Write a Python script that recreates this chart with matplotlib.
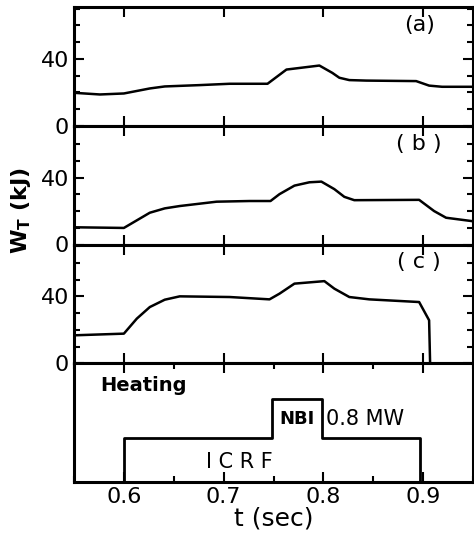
import matplotlib
matplotlib.use("Agg")
import matplotlib.pyplot as plt
from matplotlib.ticker import MultipleLocator

# Stored energy traces (t in sec, W_T in kJ)
t_a = [0.55, 0.576, 0.60, 0.626, 0.641, 0.676, 0.706, 0.744, 0.763, 0.796,
       0.809, 0.816, 0.826, 0.843, 0.893, 0.906, 0.919, 0.95]
w_a = [19.7, 18.7, 19.3, 22.3, 23.5, 24.3, 25.1, 25.1, 33.6, 36.0,
       31.6, 28.7, 27.3, 27.0, 26.7, 24.0, 23.3, 23.3]

t_b = [0.55, 0.60, 0.626, 0.641, 0.656, 0.693, 0.726, 0.747, 0.756, 0.771,
       0.786, 0.798, 0.811, 0.821, 0.831, 0.896, 0.911, 0.923, 0.95]
w_b = [10.3, 9.9, 19.0, 21.6, 23.0, 25.6, 26.0, 26.0, 30.1, 35.2,
       37.2, 37.6, 33.1, 28.5, 26.5, 26.7, 20.0, 16.0, 13.9]

t_c = [0.55, 0.60, 0.613, 0.626, 0.641, 0.656, 0.706, 0.746, 0.756, 0.771,
       0.801, 0.811, 0.826, 0.846, 0.896, 0.906, 0.907]
w_c = [16.7, 17.7, 26.7, 33.6, 38.0, 40.0, 39.6, 38.2, 41.6, 47.6,
       49.1, 44.6, 39.6, 38.2, 36.6, 25.7, 0.0]

panel_labels = ["(a)", "( b )", "( c )"]

# Heating waveforms (start, end, level)
icrf = (0.60, 0.897)
nbi = (0.748, 0.799)
icrf_level = 0.37
nbi_level = 0.70

xticks = [0.6, 0.7, 0.8, 0.9]

plt.rcParams["font.family"] = "DejaVu Sans"
fig = plt.figure(figsize=(4.74, 5.44), dpi=100)

left = 74 / 474
width = 399 / 474
top = 7 / 544
h = 118.75 / 544

axes = []
for i in range(4):
    bottom = 1 - top - (i + 1) * h
    ax = fig.add_axes([left, bottom, width, h])
    axes.append(ax)

for ax, t, w, lab in zip(axes[:3], [t_a, t_b, t_c], [w_a, w_b, w_c], panel_labels):
    ax.plot(t, w, color="black", lw=1.8)
    ax.set_ylim(0, 71)
    ax.set_yticks([0, 40])
    ax.yaxis.set_minor_locator(MultipleLocator(10))
    ax.text(0.865, 0.85, lab, transform=ax.transAxes, ha="center", va="center",
            fontsize=16)

# Heating panel
ax = axes[3]
ts = [0.55, icrf[0], icrf[0], nbi[0], nbi[0], nbi[1], nbi[1], icrf[1], icrf[1], 0.95]
lv = [0, 0, icrf_level, icrf_level, nbi_level, nbi_level, icrf_level, icrf_level, 0, 0]
ax.plot(ts, lv, color="black", lw=2.0)
ax.set_ylim(0, 1)
ax.set_yticks([])
ax.text(0.576, 0.81, "Heating", fontsize=14, fontweight="bold", va="center")
ax.text(0.7735, 0.53, "NBI", fontsize=13, fontweight="bold", ha="center",
        va="center")
ax.text(0.803, 0.53, "0.8 MW", fontsize=15, ha="left", va="center")
ax.text(0.716, 0.17, "I C R F", fontsize=15, ha="center", va="center")
ax.xaxis.set_minor_locator(MultipleLocator(0.05))
ax.set_xlabel("t (sec)", fontsize=18, labelpad=0)

for ax in axes:
    ax.set_xlim(0.55, 0.95)
    ax.set_xticks(xticks)
    ax.tick_params(direction="in", which="both", top=True, right=True,
                   width=1.5, labelsize=16)
    ax.tick_params(which="major", length=7)
    ax.tick_params(which="minor", length=4)
    for s in ax.spines.values():
        s.set_linewidth(2.2)
for ax in axes[:3]:
    ax.tick_params(labelbottom=False)

fig.text(0.045, 0.614, "W$_\\mathbf{T}$ (kJ)", rotation=90, fontsize=16,
         fontweight="bold", ha="center", va="center")

fig.savefig("out.png", dpi=100)
